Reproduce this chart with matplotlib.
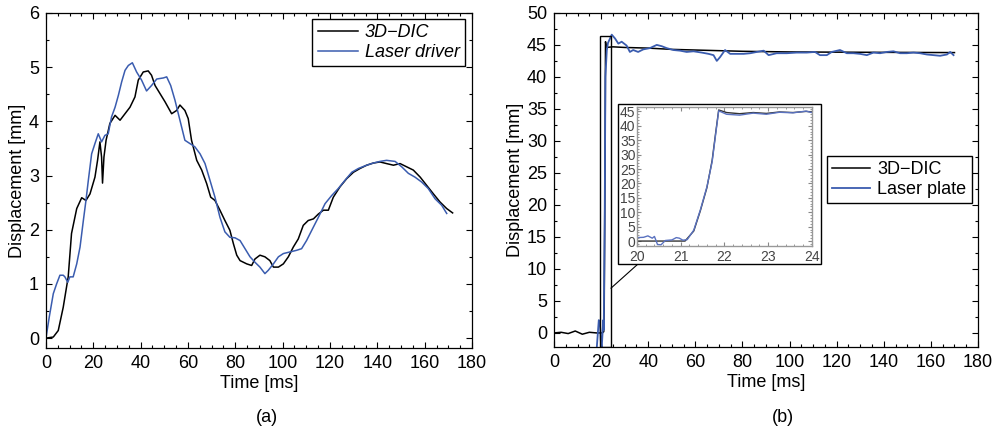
import numpy as np
import matplotlib
matplotlib.use('Agg')
import matplotlib.pyplot as plt
from matplotlib.patches import Rectangle
from matplotlib.lines import Line2D
from matplotlib.ticker import MultipleLocator

plt.rcParams['font.family'] = ['Liberation Sans', 'DejaVu Sans']

# ---- panel (a): 3D-DIC vs laser driver ----
t_dic_a = [0, 3.1, 5.2, 7.3, 9.4, 10.8, 13, 15.1, 16.9, 18.6, 20.7, 21.8, 22.8, 23.5, 23.9, 24.5,
           25.4, 27, 29.2, 31.3, 33.4, 35.5, 37.6, 39, 41.1, 43.2, 44.6, 46.1, 48.2, 50.3, 53.1,
           55.2, 56.6, 58.7, 60.1, 61.5, 63.7, 65.8, 67.9, 69.6, 71.4, 73.5, 75.6, 77.7, 79.2,
           80.6, 82, 84.8, 86.9, 88.3, 90.4, 92.5, 94.6, 96.1, 98.2, 100.3, 102.4, 104.5, 106.6,
           108.7, 110.8, 113, 115.1, 117.2, 119.3, 121.4, 124.2, 127, 129.9, 132.7, 135.5, 138.3,
           141.1, 143.9, 146.8, 149.6, 152.4, 155.2, 158.1, 160.8, 163.7, 166.5, 169.3, 171.8]
y_dic_a = [0, 0.02, 0.14, 0.57, 1.13, 1.93, 2.39, 2.59, 2.54, 2.66, 2.97, 3.28, 3.62, 3.34, 2.86, 3.34,
           3.65, 3.96, 4.11, 4.02, 4.14, 4.26, 4.45, 4.76, 4.91, 4.93, 4.85, 4.66, 4.51, 4.36, 4.14,
           4.2, 4.3, 4.2, 4.05, 3.65, 3.28, 3.1, 2.85, 2.6, 2.54, 2.36, 2.17, 1.99, 1.74,
           1.53, 1.43, 1.37, 1.34, 1.46, 1.53, 1.5, 1.43, 1.31, 1.31, 1.37, 1.5, 1.68, 1.83,
           2.08, 2.17, 2.2, 2.29, 2.36, 2.36, 2.6, 2.79, 2.94, 3.06, 3.13, 3.19, 3.23,
           3.25, 3.22, 3.19, 3.22, 3.16, 3.1, 2.97, 2.82, 2.66, 2.51, 2.39, 2.31]

t_las_a = [0, 1.4, 3.1, 4.5, 5.9, 7.3, 8, 9.2, 10.1, 11.5, 13, 14.4, 15.8, 16.9, 17.9, 19.3, 20.7,
           22.1, 23.5, 24.9, 26.3, 27.7, 29.2, 30.6, 32, 33.4, 34.8, 36.5, 38.3, 40.4, 42.5, 44.6,
           46.8, 49.6, 51, 52.7, 54.5, 56.6, 58.7, 60.8, 62.9, 65.1, 67.2, 69.3, 71.4, 73.5, 75.6,
           77.7, 79.9, 82, 84.1, 86.2, 88.3, 90.4, 92.5, 93.9, 96.1, 98.2, 100.3, 103.1, 105.9,
           108, 110.1, 112.3, 115.1, 117.9, 120.7, 123.5, 126.3, 129.2, 132, 135.5, 138.3, 141.1,
           143.9, 147.5, 150.3, 153.1, 155.9, 158.7, 161.5, 164.4, 167.2, 169.3]
y_las_a = [0, 0.39, 0.82, 1.0, 1.16, 1.16, 1.13, 1.03, 1.13, 1.13, 1.37, 1.68, 2.17, 2.54, 2.91, 3.4, 3.59,
           3.77, 3.62, 3.74, 3.77, 4.08, 4.26, 4.48, 4.73, 4.94, 5.03, 5.08, 4.91, 4.76, 4.56, 4.66,
           4.78, 4.8, 4.82, 4.66, 4.39, 4.02, 3.65, 3.59, 3.53, 3.4, 3.22, 2.91, 2.6, 2.23, 1.96,
           1.86, 1.85, 1.8, 1.65, 1.5, 1.4, 1.31, 1.19, 1.25, 1.37, 1.5, 1.56, 1.59, 1.62,
           1.65, 1.8, 1.99, 2.23, 2.48, 2.63, 2.76, 2.91, 3.06, 3.13, 3.19, 3.23, 3.26,
           3.28, 3.26, 3.16, 3.04, 2.97, 2.88, 2.76, 2.57, 2.45, 2.3]

# ---- panel (b): 3D-DIC vs laser plate ----
t_dic_b = [0, 3, 6, 9, 12, 15, 18, 20.5, 21.1, 21.3, 21.5, 21.7, 21.85, 22.2, 25, 30, 40, 50, 60,
           70, 80, 100, 130, 170]
y_dic_b = [0, 0.1, -0.1, 0.3, -0.2, 0.1, 0, 0, 0.2, 4, 17, 30, 45.5, 44.6, 44.7, 44.6, 44.5, 44.3,
           44.2, 44.1, 44.0, 43.9, 43.85, 43.8]

t_las_b = [18.1, 18.6, 19.0, 19.5, 19.8, 20.2, 20.6, 20.9, 21.1, 21.5, 21.8, 22.4, 22.9, 24.5, 25.9,
           27.3, 28.7, 30.8, 32.2, 33.6, 35.7, 37.9, 40.7, 43.6, 45.7, 47.8, 50.7, 53.5, 56.3, 59.2,
           62.7, 65.6, 67.7, 69.1, 70.5, 72.6, 74.8, 77.6, 80.5, 83.3, 86.1, 89.0, 91.1, 94.5, 98.8,
           103.0, 107.3, 110.8, 112.9, 115.8, 117.9, 121.4, 124.3, 127.1, 129.9, 132.8, 135.6,
           138.4, 141.3, 144.1, 146.9, 149.8, 152.6, 155.4, 158.3, 161.1, 163.9, 166.8, 168.2, 169.6]
y_las_b = [-2.5, 0, 2.0, 1.8, -1.0, -2.5, 0, 2.0, 0.5, 17, 40, 44.2, 45.3, 46.6, 46.0,
           45.2, 45.5, 44.9, 43.9, 44.2, 43.9, 44.3, 44.5, 45.0, 44.8, 44.5, 44.2, 44.1, 43.9, 44.0,
           43.8, 43.6, 43.4, 42.5, 43.1, 44.2, 43.6, 43.6, 43.6, 43.7, 43.9, 44.1, 43.4, 43.7, 43.7,
           43.8, 43.8, 43.9, 43.4, 43.4, 43.9, 44.2, 43.7, 43.7, 43.6, 43.4, 43.8,
           43.7, 43.9, 44.0, 43.7, 43.7, 43.8, 43.7, 43.5, 43.4, 43.3, 43.5, 43.9, 43.4]

# inset (zoom of 20-24 ms)
t_dic_in = [20, 21.1, 21.3, 21.45, 21.6, 21.72, 21.8, 21.87, 22.05, 22.35, 22.66, 22.96, 23.26, 23.57, 23.87, 24]
y_dic_in = [0, 0, 3.5, 10.5, 18.5, 28, 37.5, 45.5, 44.6, 44.2, 44.6, 44.3, 44.8, 44.6, 45.0, 44.8]
t_las_in = [20, 20.15, 20.25, 20.35, 20.4, 20.47, 20.55, 20.65, 20.8, 20.9, 20.97, 21.05, 21.15,
            21.3, 21.45, 21.6, 21.72, 21.8, 21.87, 22.05, 22.35, 22.66, 22.96, 23.26, 23.57, 23.87, 24]
y_las_in = [1.2, 1.3, 1.8, 1.0, 1.6, -1.2, -1.3, 0.2, 0.4, 1.2, 1.0, 0.3, 0.5,
            3.8, 10.8, 18.8, 27.5, 37.0, 45.2, 44.0, 43.7, 44.4, 44.0, 44.7, 44.5, 45.1, 44.6]

blue = '#3a5caf'
fs = 13

fig = plt.figure(figsize=(9.99, 4.3), dpi=100)

def matlab_style(ax, xminor, yminor):
    ax.xaxis.set_minor_locator(MultipleLocator(xminor))
    ax.yaxis.set_minor_locator(MultipleLocator(yminor))
    ax.tick_params(which='both', direction='in', top=True, right=True, width=0.8)
    ax.tick_params(which='major', length=4, labelsize=fs, pad=5)
    ax.tick_params(which='minor', length=2)
    for s in ax.spines.values():
        s.set_linewidth(0.9)

# (a)
ax1 = fig.add_axes([0.046, 0.191, 0.4265, 0.779])
ax1.plot(t_dic_a, y_dic_a, color='black', lw=1.1, label='3D\u2212DIC')
ax1.plot(t_las_a, y_las_a, color=blue, lw=1.1, label='Laser driver')
ax1.set_xlim(0, 180)
ax1.set_ylim(-0.18, 6)
ax1.set_xticks(np.arange(0, 181, 20))
ax1.set_yticks(np.arange(0, 7, 1))
ax1.set_xlabel('Time [ms]', fontsize=fs, labelpad=2)
ax1.set_ylabel('Displacement [mm]', fontsize=fs, labelpad=2)
matlab_style(ax1, 5, 0.5)
leg1 = ax1.legend(loc='upper right', bbox_to_anchor=(0.984, 0.982), borderaxespad=0, fancybox=False,
                  edgecolor='black', handlelength=2.2, handletextpad=0.4,
                  prop={'style': 'italic', 'size': fs}, framealpha=1, borderpad=0.3, labelspacing=0.15)
leg1.get_frame().set_linewidth(1.0)

# (b)
ax2 = fig.add_axes([0.5546, 0.193, 0.4244, 0.777])
ax2.plot(t_dic_b, y_dic_b, color='black', lw=1.1, label='3D\u2212DIC')
ax2.plot(t_las_b, y_las_b, color=blue, lw=1.3, label='Laser plate')
ax2.set_xlim(0, 180)
ax2.set_ylim(-2.2, 50)
ax2.set_xticks(np.arange(0, 181, 20))
ax2.set_yticks(np.arange(0, 51, 5))
ax2.set_xlabel('Time [ms]', fontsize=fs, labelpad=2)
ax2.set_ylabel('Displacement [mm]', fontsize=fs, labelpad=2)
matlab_style(ax2, 5, 2.5)
ax2.add_patch(Rectangle((19.5, -2.2), 4.7, 48.6, fill=False, edgecolor='black', lw=1.0, zorder=5))
leg2 = ax2.legend(loc='upper right', bbox_to_anchor=(0.985, 0.572), borderaxespad=0, fancybox=False,
                  edgecolor='black', handlelength=2.1, handletextpad=0.4, fontsize=fs, framealpha=1,
                  borderpad=0.3, labelspacing=0.15)
leg2.get_frame().set_linewidth(1.0)

# inset frame and connector
fig.patches.append(Rectangle((0.6186, 0.386), 0.2032, 0.372, transform=fig.transFigure,
                             facecolor='white', edgecolor='black', lw=1.0, zorder=3))
x0, y0 = ax2.transData.transform((24.2, 7))
x0, y0 = fig.transFigure.inverted().transform((x0, y0))
fig.lines.append(Line2D([x0, 0.6386], [y0, 0.386], transform=fig.transFigure, color='black', lw=0.8))

axi = fig.add_axes([0.6376, 0.428, 0.175, 0.323], zorder=4)
axi.plot(t_dic_in, y_dic_in, color='#333333', lw=1.0)
axi.plot(t_las_in, y_las_in, color='#5a72c0', lw=1.0)
axi.set_xlim(20, 24)
axi.set_ylim(-1.7, 46.5)
axi.set_xticks(np.arange(20, 25, 1))
axi.set_yticks(np.arange(0, 46, 5))
axi.minorticks_on()
axi.tick_params(which='both', direction='in', top=True, right=True, colors='#888888',
                labelcolor='#444444', labelsize=10)
axi.tick_params(which='major', length=3)
axi.tick_params(which='minor', length=1.5)
axi.tick_params(axis='y', pad=1)
axi.tick_params(axis='x', pad=3)
for s in axi.spines.values():
    s.set_edgecolor('#999999')
    s.set_linewidth(1.0)

fig.text(0.267, 0.03, '(a)', ha='center', va='center', fontsize=fs)
fig.text(0.784, 0.03, '(b)', ha='center', va='center', fontsize=fs)

fig.savefig('out.png', dpi=100)
